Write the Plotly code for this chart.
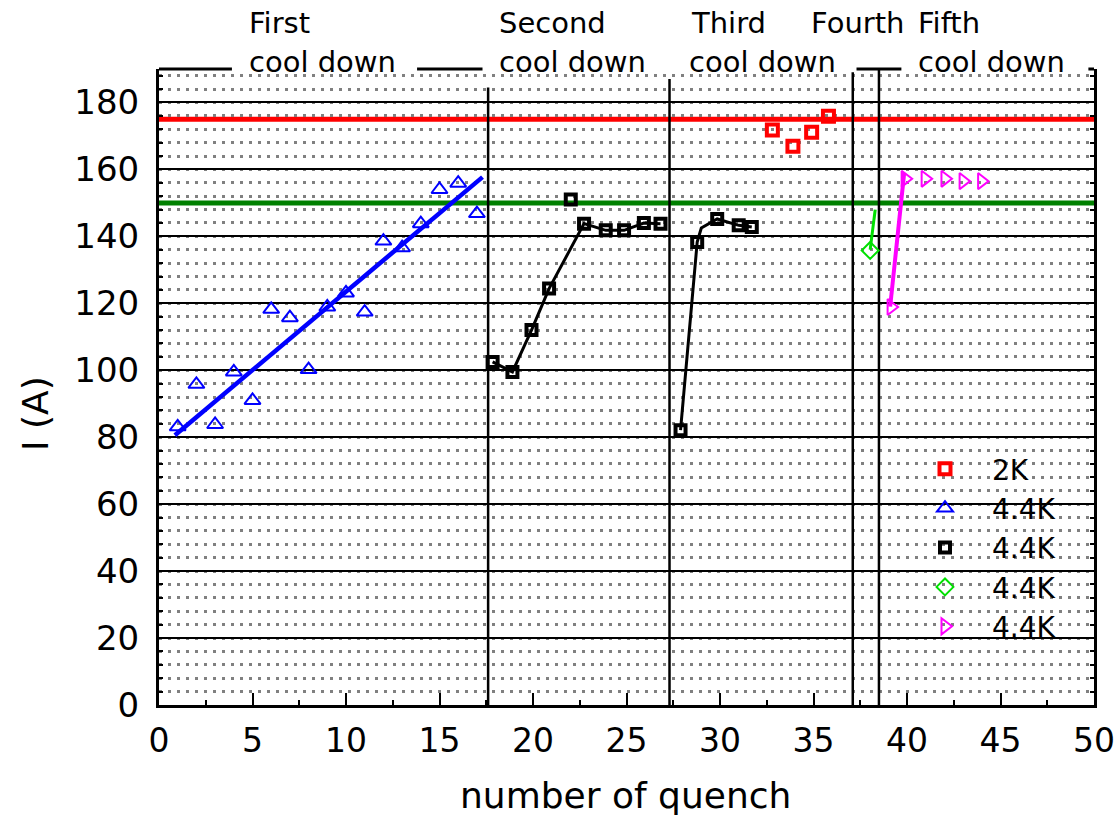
import plotly.graph_objects as go

# ---- data -------------------------------------------------------------
# 2 K runs
q_2k = [32.8, 33.9, 34.9, 35.8]
i_2k = [171.8, 166.9, 171.1, 175.9]

# first cool down, 4.4 K
q_c1 = [1, 2, 3, 4, 5, 6, 7, 8, 9, 10, 11, 12, 13, 14, 15, 16, 17]
i_c1 = [83.1, 95.8, 83.8, 99.5, 91.0, 118.2, 115.7, 100.2, 118.9, 123.1,
        117.4, 138.6, 136.6, 143.8, 154.0, 155.9, 146.8]
# linear trend of the first cool down (end points)
q_c1_fit = [0.85, 17.3]
i_c1_fit = [80.6, 157.7]

# second + third cool down, 4.4 K
q_c23 = [17.84, 18.9, 19.92, 20.86, 22.02, 22.73, 23.89, 24.87, 25.93, 26.82,
         27.89, 28.78, 29.85, 31.0, 31.7]
i_c23 = [102.5, 99.5, 112.0, 124.4, 151.0, 143.8, 141.8, 141.8, 144.0, 143.8,
         82.1, 138.3, 145.2, 143.3, 142.8]
# connecting lines of the second and third cool down
q_c2_line = [17.84, 18.9, 19.92, 20.86, 22.73, 23.89, 24.87, 25.93, 26.82]
i_c2_line = [102.5, 99.5, 112.0, 124.4, 143.8, 141.8, 141.8, 144.0, 143.8]
q_c3_line = [27.89, 28.78, 29.0, 29.85, 31.0, 31.7]
i_c3_line = [82.1, 138.3, 142.5, 145.2, 143.3, 142.8]

# fourth cool down, 4.4 K
q_c4 = [38.03]
i_c4 = [135.8]
q_c4_line = [38.03, 38.3]
i_c4_line = [136.0, 148.0]

# fifth cool down, 4.4 K
q_c5 = [39.15, 39.9, 40.97, 42.03, 43.0, 43.99]
i_c5 = [118.9, 157.2, 157.2, 157.2, 156.5, 156.5]
q_c5_line = [39.1, 39.85]
i_c5_line = [119.0, 159.0]

# reference current levels
i_ref_2k = 175
i_ref_44k = 150

# cool-down separators (quench number, top of the line in A)
sep_q = [17.6, 27.3, 37.1, 38.5]
sep_top = [184.5, 187.0, 189.0, 190.0]

# labels above the plot
label_q1 = [4.7, 18.09, 28.34, 34.74, 40.5]
label_row1 = ["First", "Second", "Third", "Fourth", "Fifth"]
label_q2 = [4.7, 18.09, 28.23, 40.5]
label_row2 = ["cool down", "cool down", "cool down", "cool down"]

# pieces of the upper frame line
top_frame = [(0, 3.9), (13.8, 17.3), (37.3, 39.7), (49.7, 50)]

y_ticks = list(range(0, 181, 20))
x_ticks = list(range(0, 51, 5))

FONT = "DejaVu Sans"

# plot-area geometry in pixels
L, R, T, B = 159, 22, 69, 114
W, H = 1116, 819
PW = W - L - R
PH = H - T - B


def px_x(px):
    return (px - L) / PW


def px_y(py):
    return (H - B - py) / PH


fig = go.Figure()

# lines first (no legend)
fig.add_trace(go.Scatter(x=q_c1_fit, y=i_c1_fit, mode="lines",
                         line=dict(color="#0000FF", width=4.5), showlegend=False,
                         hoverinfo="skip"))
fig.add_trace(go.Scatter(x=q_c2_line, y=i_c2_line, mode="lines",
                         line=dict(color="black", width=3), showlegend=False,
                         hoverinfo="skip"))
fig.add_trace(go.Scatter(x=q_c3_line, y=i_c3_line, mode="lines",
                         line=dict(color="black", width=3), showlegend=False,
                         hoverinfo="skip"))
fig.add_trace(go.Scatter(x=q_c4_line, y=i_c4_line, mode="lines",
                         line=dict(color="#00E000", width=3), showlegend=False,
                         hoverinfo="skip"))
fig.add_trace(go.Scatter(x=q_c5_line, y=i_c5_line, mode="lines",
                         line=dict(color="#FF00FF", width=4), showlegend=False,
                         hoverinfo="skip"))

# markers
fig.add_trace(go.Scatter(x=q_2k, y=i_2k, mode="markers", name="2K",
                         marker=dict(symbol="square-open", size=11, color="#FF0000",
                                     line=dict(width=4, color="#FF0000"))))
fig.add_trace(go.Scatter(x=q_c1, y=i_c1, mode="markers", name="4.4K",
                         marker=dict(symbol="triangle-up-open", size=14, color="#0000FF",
                                     line=dict(width=2, color="#0000FF"))))
fig.add_trace(go.Scatter(x=q_c23, y=i_c23, mode="markers", name="4.4K",
                         marker=dict(symbol="square-open", size=10, color="black",
                                     line=dict(width=4, color="black"))))
fig.add_trace(go.Scatter(x=q_c4, y=i_c4, mode="markers", name="4.4K",
                         marker=dict(symbol="diamond-open", size=13, color="#00E000",
                                     line=dict(width=2, color="#00E000"))))
fig.add_trace(go.Scatter(x=q_c5, y=i_c5, mode="markers", name="4.4K",
                         marker=dict(symbol="triangle-right-open", size=14, color="#FF00FF",
                                     line=dict(width=2, color="#FF00FF"))))

shapes = []
# white panel behind the legend
shapes.append(dict(type="rect", xref="paper", yref="paper",
                   x0=px_x(893), x1=px_x(1078), y0=px_y(660), y1=px_y(430),
                   fillcolor="white", line=dict(width=0), layer="between"))
# reference levels
for lvl, col in [(i_ref_2k, "#FF0000"), (i_ref_44k, "#008000")]:
    shapes.append(dict(type="line", xref="paper", yref="y", x0=0, x1=1,
                       y0=lvl, y1=lvl, line=dict(color=col, width=5),
                       layer="between"))
# cool-down separators
for q, top in zip(sep_q, sep_top):
    shapes.append(dict(type="line", xref="x", yref="y", x0=q, x1=q,
                       y0=0, y1=top, line=dict(color="black", width=2.5),
                       layer="between"))
# broken upper frame
for a, b in top_frame:
    shapes.append(dict(type="line", xref="x", yref="paper", x0=a, x1=b,
                       y0=1, y1=1, line=dict(color="black", width=3),
                       layer="above"))

annotations = []
for q, t in zip(label_q1, label_row1):
    annotations.append(dict(x=q, y=px_y(23), xref="x", yref="paper",
                            text=t, showarrow=False, xanchor="left", yanchor="middle",
                            font=dict(family=FONT, size=29, color="black")))
for q, t in zip(label_q2, label_row2):
    annotations.append(dict(x=q, y=px_y(62), xref="x", yref="paper",
                            text=t, showarrow=False, xanchor="left", yanchor="middle",
                            font=dict(family=FONT, size=29, color="black")))
# axis titles
annotations.append(dict(x=0, xshift=-124, y=px_y(414), xref="paper", yref="paper",
                        text="I (A)", textangle=-90, showarrow=False,
                        xanchor="center", yanchor="middle",
                        font=dict(family=FONT, size=36, color="black")))
annotations.append(dict(x=px_x(625), y=px_y(795), xref="paper", yref="paper",
                        text="number of quench", showarrow=False,
                        xanchor="center", yanchor="middle",
                        font=dict(family=FONT, size=36, color="black")))

fig.update_layout(
    width=W, height=H,
    margin=dict(l=L, r=R, t=T, b=B, autoexpand=False),
    paper_bgcolor="white", plot_bgcolor="white",
    font=dict(family=FONT, size=34, color="black"),
    shapes=shapes, annotations=annotations,
    legend=dict(x=px_x(898), y=px_y(444), xanchor="left", yanchor="top",
                bgcolor="rgba(0,0,0,0)", borderwidth=0, itemwidth=84,
                font=dict(family=FONT, size=28, color="black")),
)

fig.update_xaxes(
    range=[0, 50], tickvals=x_ticks, ticks="inside", ticklen=12, tickwidth=2,
    tickcolor="black", showgrid=False, zeroline=False, automargin=False,
    showline=True, linecolor="black", linewidth=3, mirror=False,
    ticklabelstandoff=4, ticklabeloverflow="allow",
    tickfont=dict(family=FONT, size=33, color="black"),
    minor=dict(dtick=2.5, ticks="inside", ticklen=5, tickwidth=2,
               tickcolor="black", showgrid=False),
)
fig.update_yaxes(
    range=[0, 190], tickvals=y_ticks, ticks="inside", ticklen=6, tickwidth=2,
    tickcolor="black", showgrid=True, gridcolor="black", gridwidth=2,
    zeroline=False, showline=True, linecolor="black", linewidth=3, mirror="ticks",
    ticklabelstandoff=10, automargin=False,
    tickfont=dict(family=FONT, size=34, color="black"),
    minor=dict(dtick=4, tick0=0, ticks="inside", ticklen=4, tickwidth=2,
               tickcolor="black", showgrid=True, gridcolor="#808080",
               gridwidth=2.5, griddash="3px,6px"),
)

fig.write_html("out.html")
